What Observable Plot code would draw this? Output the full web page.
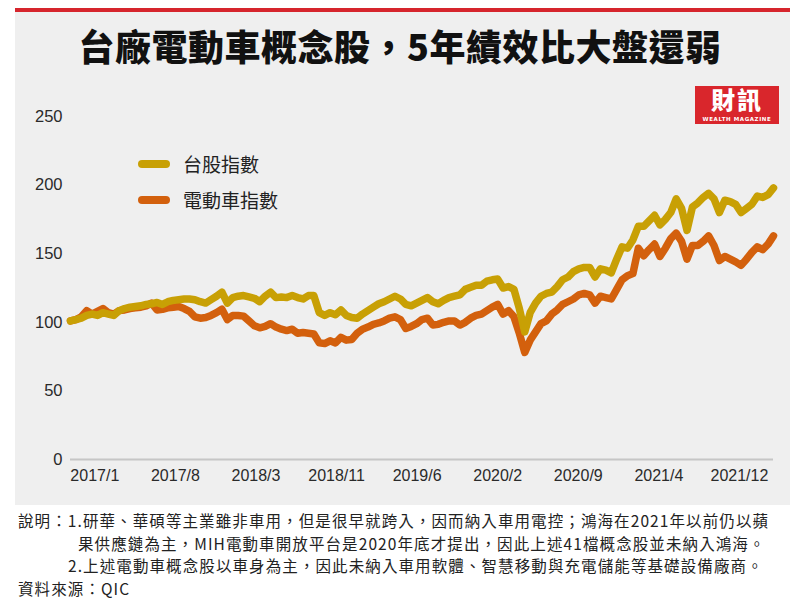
<!DOCTYPE html>
<html>
<head>
<meta charset="utf-8">
<script src="https://cdn.jsdelivr.net/npm/d3@7"></script>
<script src="https://cdn.jsdelivr.net/npm/@observablehq/plot@0.6"></script>
<style>
  html, body { margin: 0; padding: 0; background: #ffffff; }
  #page { position: relative; width: 800px; height: 604px; overflow: hidden; background: #fff; font-family: "Noto Sans CJK TC", "Noto Sans", sans-serif; }
  #panel { position: absolute; left: 15px; top: 8px; width: 775px; height: 497px; background: #efefef; border-top: 4px solid #d6252d; box-sizing: border-box; }
  #title { position: absolute; left: 0; width: 800px; top: 22px; text-align: center; font-family: "Noto Sans CJK TC", sans-serif; font-weight: 900; font-size: 36px; line-height: 46px; color: #111; letter-spacing: 0.5px; }
  #logo { position: absolute; left: 695px; top: 86px; width: 84px; height: 38px; background: #d9262c; color: #fff; }
  #logo .big { position: absolute; left: 0; top: -1px; width: 84px; text-align: center; font-family: "Noto Sans CJK TC", serif; font-weight: 900; font-size: 24px; line-height: 28px; letter-spacing: 2px; }
  #logo .small { position: absolute; left: 0; top: 30px; width: 84px; text-align: center; font-family: "DejaVu Sans", sans-serif; font-weight: bold; font-size: 5.5px; line-height: 6px; letter-spacing: 0.6px; }
  #chart { position: absolute; left: 0; top: 100px; }
  #chart svg text { font-weight: 400 !important; stroke: none !important; }
  .legend { position: absolute; font-family: "Noto Sans CJK TC", sans-serif; font-size: 19px; color: #222; display: flex; align-items: center; }
  .legend .sw { width: 32px; height: 8px; border-radius: 4px; margin-right: 13px; }
  #notes { position: absolute; left: 18px; top: 509px; font-family: "Noto Sans CJK TC", sans-serif; font-size: 15.5px; line-height: 22.5px; letter-spacing: 1.1px; color: #222; white-space: nowrap; }
</style>
</head>
<body>
<div id="page">
  <div id="panel"></div>
  <div id="title">台廠電動車概念股，5年績效比大盤還弱</div>
  <div id="logo"><div class="big">財訊</div><div class="small">WEALTH MAGAZINE</div></div>
  <div id="chart"></div>
  <div id="legend"></div>
  <div id="notes"></div>
</div>
<script>
// Series names and colours
const seriesNames = ["台股指數", "電動車指數"];
const seriesColors = ["#c8a005", "#d3600d"];

// 台股指數 (biweekly points, base 100)
const taiex = [
  101, 102, 103, 105, 106, 105, 107, 106, 105, 108.5,
  110, 111, 111.5, 112, 113, 113.5, 114.5, 113, 115, 116,
  116.5, 117, 117, 116.5, 115, 114, 116.5, 119, 122, 114,
  118, 119, 119.5, 118.5, 117.5, 115, 119, 122, 118, 118.5,
  118, 119.5, 118, 117, 119.5, 119.5, 107, 105, 107, 105.5,
  109, 105, 103.5, 103, 106, 108.5, 111, 113.5, 115, 117,
  119, 117, 113, 112, 114, 116, 118, 115, 113.5, 116,
  118, 119, 120, 124, 125.5, 127, 127, 130, 131, 131.5,
  125, 126, 124, 110, 93, 107, 114, 119, 121, 122,
  126, 131, 133, 137, 139, 140, 140, 133, 139, 138,
  136, 146, 155, 154, 160, 170, 170, 174, 178, 171,
  175, 180, 190, 183, 167, 184, 187, 191, 194, 190,
  180, 189, 188, 186, 180, 183, 186, 192, 191, 193,
  198
];

// 電動車指數 (biweekly points, base 100)
const evIndex = [
  101, 102, 104, 108.5, 106, 108, 110, 107, 106, 108.5,
  109, 110, 110.5, 111, 112, 114, 109, 109.5, 110.5, 111,
  111.5, 110, 108, 104, 103, 103.5, 105, 107, 109.5, 102,
  105, 105, 104.5, 101, 97.5, 96, 97, 99, 96.5, 95,
  94, 95, 92, 92.5, 92, 91.5, 85, 84.5, 86.5, 85,
  89, 87, 87.5, 92, 95, 96.5, 98.5, 99.5, 101, 103,
  104, 102, 95.5, 97, 99, 102, 103, 98, 98.5, 100,
  101, 101, 98, 100, 103, 105, 106, 108.5, 111, 113,
  106, 108.5, 104, 92, 78, 87, 93, 99, 101, 106,
  109, 113, 115, 117, 120, 121, 120, 114, 119, 118,
  117, 124, 131, 134, 135.5, 154, 148.5, 153, 157, 148,
  154, 161, 165, 159, 146, 156, 156, 159, 163, 156,
  145, 148, 146, 144, 141.5, 146, 151, 155, 153, 157,
  163
];

// x-axis category labels and the point index each one sits on
const tickLabels = ["2017/1", "2017/8", "2018/3", "2018/11", "2019/6", "2020/2", "2020/9", "2021/4", "2021/12"];
const tickAt = [4.5, 19.4, 34.3, 49.2, 64.1, 79.0, 93.9, 108.8, 123.7];
const yTicks = [0, 50, 100, 150, 200, 250];

const labelOf = new Map(tickAt.map((t, i) => [t, tickLabels[i]]));

const chart = Plot.plot({
  width: 800,
  height: 392,
  marginLeft: 70,
  marginRight: 27,
  marginTop: 16,
  marginBottom: 33,
  style: { background: "transparent", overflow: "visible" },
  x: { domain: [0, taiex.length - 1], axis: null },
  y: { domain: [0, 250], axis: null },
  marks: [
    Plot.ruleY([0], { stroke: "#c6c6c6", strokeWidth: 2 }),
    Plot.axisY({ ticks: yTicks, tickSize: 0, tickPadding: 8, fontSize: 16.5, fontFamily: "Liberation Sans, Arial, sans-serif" }),
    Plot.axisX({ ticks: tickAt, tickFormat: d => labelOf.get(d), tickSize: 0, tickPadding: 10, fontSize: 16, fontFamily: "Liberation Sans, Arial, sans-serif" }),
    Plot.lineY(evIndex, { stroke: seriesColors[1], strokeWidth: 7.5, strokeLinejoin: "round", strokeLinecap: "round" }),
    Plot.lineY(taiex, { stroke: seriesColors[0], strokeWidth: 7.5, strokeLinejoin: "round", strokeLinecap: "round" })
  ]
});
chart.querySelectorAll("text").forEach(t => { t.setAttribute("fill", "#2a2a2a"); t.setAttribute("stroke", "none"); t.setAttribute("font-weight", "400"); });
chart.querySelectorAll("g[aria-label$='axis'], g[aria-label*='tick label']").forEach(g => { g.setAttribute("stroke", "none"); g.setAttribute("font-weight", "400"); });
document.getElementById("chart").appendChild(chart);

// legend
const legend = document.getElementById("legend");
seriesNames.forEach((name, i) => {
  const row = document.createElement("div");
  row.className = "legend";
  row.style.left = "138px";
  row.style.top = (150 + i * 36) + "px";
  const sw = document.createElement("div");
  sw.className = "sw";
  sw.style.background = seriesColors[i];
  const tx = document.createElement("span");
  tx.textContent = name;
  row.appendChild(sw);
  row.appendChild(tx);
  legend.appendChild(row);
});

// notes
const noteLines = [
  ["0px", "說明：1.研華、華碩等主業雖非車用，但是很早就跨入，因而納入車用電控；鴻海在2021年以前仍以蘋"],
  ["60px", "果供應鏈為主，MIH電動車開放平台是2020年底才提出，因此上述41檔概念股並未納入鴻海。"],
  ["50px", "2.上述電動車概念股以車身為主，因此未納入車用軟體、智慧移動與充電儲能等基礎設備廠商。"],
  ["0px", "資料來源：QIC"]
];
const notes = document.getElementById("notes");
noteLines.forEach(([indent, text]) => {
  const d = document.createElement("div");
  d.style.paddingLeft = indent;
  d.textContent = text;
  notes.appendChild(d);
});
</script>
</body>
</html>
